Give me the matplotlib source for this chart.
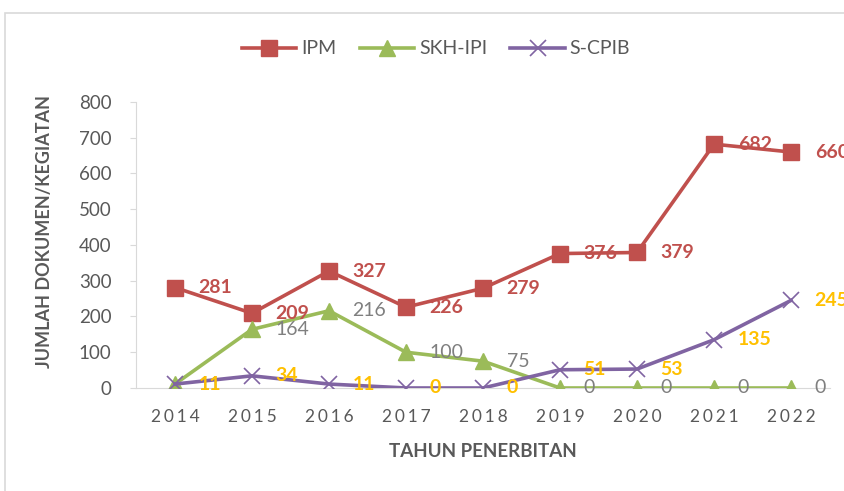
import matplotlib
matplotlib.use("Agg")
import matplotlib.pyplot as plt
from matplotlib.patches import Rectangle

years = ["2014", "2015", "2016", "2017", "2018", "2019", "2020", "2021", "2022"]
ipm = [281, 209, 327, 226, 279, 376, 379, 682, 660]
skh_ipi = [11, 164, 216, 100, 75, 0, 0, 0, 0]
s_cpib = [11, 34, 11, 0, 0, 51, 53, 135, 245]

plt.rcParams["font.family"] = ["Lato", "DejaVu Sans"]

fig = plt.figure(figsize=(8.45, 4.91), dpi=100)
ax = fig.add_axes([0.1615, 0.2098, 0.8202, 0.5825])

# light chart border, like the Excel chart area
fig.patches.append(Rectangle((5 / 845, -0.1), 1.2, 1.1 - 13 / 491,
                             transform=fig.transFigure, fill=False,
                             edgecolor="#D9D9D9", linewidth=1.2))

x = list(range(len(years)))
series = [
    ("IPM", ipm, "#C0504D", "s", 11, "#C0504D", "bold"),
    ("SKH-IPI", skh_ipi, "#9BBB59", "^", 12, "#7F7F7F", "normal"),
    ("S-CPIB", s_cpib, "#8064A2", "x", 11, "#FFC000", "bold"),
]
for name, vals, color, marker, ms, lab_color, weight in series:
    ax.plot(x, vals, color=color, linewidth=2.6, marker=marker, markersize=ms,
            markeredgewidth=1.2 if marker == "x" else 1, label=name, zorder=3)
    for xi, v in zip(x, vals):
        ax.annotate(str(v), (xi, v), xytext=(17, 0), textcoords="offset points",
                    ha="left", va="center", fontsize=14, color=lab_color,
                    fontweight=weight, annotation_clip=False, zorder=4)

ax.set_xlim(-0.5, len(years) - 0.5)
ax.set_ylim(0, 800)
ax.set_yticks(range(0, 801, 100))
ax.set_xticks(x)
# spaced-out digits like the original category labels
ax.set_xticklabels(["\u2006".join(y) for y in years])
ax.tick_params(axis="x", length=0, colors="#595959", labelsize=12.5, pad=15)
ax.tick_params(axis="y", length=4, color="#D9D9D9", labelcolor="#595959",
               labelsize=13.5, pad=14)

for side in ("top", "right"):
    ax.spines[side].set_visible(False)
ax.spines["left"].set_color("#D9D9D9")
ax.spines["bottom"].set_color("#D9D9D9")

ax.set_xlabel("TAHUN PENERBITAN", fontsize=13.5, fontweight="bold",
              color="#595959", labelpad=13)
fig.text(45 / 845, 1 - 231 / 491, "JUMLAH DOKUMEN/KEGIATAN", rotation=90,
         ha="center", va="center", fontsize=13, fontweight="bold",
         color="#595959")

fig.legend(loc="center", bbox_to_anchor=(436 / 845, 1 - 49 / 491), ncol=3,
           frameon=False, fontsize=14, handlelength=2.8, columnspacing=1.2,
           handletextpad=0.25, labelcolor="#595959")

fig.savefig("out.png", dpi=100)
